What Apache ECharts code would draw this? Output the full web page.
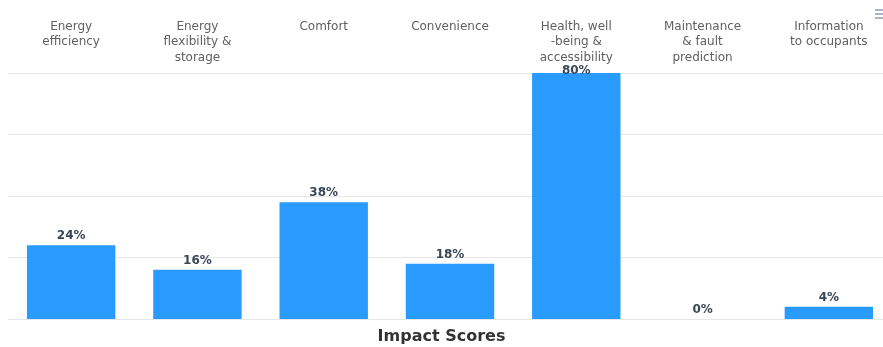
<!DOCTYPE html>
<html>
<head>
<meta charset="utf-8">
<script src="https://cdn.jsdelivr.net/npm/echarts@6/dist/echarts.min.js"></script>
<style>html,body{margin:0;padding:0;background:#fff;}#c{width:883px;height:347px;}</style>
</head>
<body>
<div id="c"></div>
<script>
const categories = [
  "Energy\nefficiency",
  "Energy\nflexibility &\nstorage",
  "Comfort",
  "Convenience",
  "Health, well\n-being &\naccessibility",
  "Maintenance\n& fault\nprediction",
  "Information\nto occupants"
];
const impactScores = [24, 16, 38, 18, 80, 0, 4];
const yTicks = [0, 20, 40, 60, 80];
const axisTitle = "Impact Scores";

const yMax = yTicks[yTicks.length - 1];
const seriesData = impactScores.map(v => v >= yMax ? {value: v, label: {offset: [0, 7]}} : v);

const chart = echarts.init(document.getElementById('c'), null, {renderer: 'canvas'});
chart.setOption({
  animation: false,
  backgroundColor: '#ffffff',
  grid: {left: 8, top: 73, width: 884, bottom: 28, containLabel: false, outerBoundsMode: 'none'},
  xAxis: {
    type: 'category',
    position: 'top',
    data: categories,
    axisLine: {show: true, lineStyle: {color: '#e6e6e6'}},
    axisTick: {show: false},
    axisLabel: {
      interval: 0,
      color: '#606060',
      fontSize: 12,
      fontFamily: 'DejaVu Sans',
      lineHeight: 15.5,
      verticalAlign: 'top',
      margin: 54
    }
  },
  yAxis: {
    type: 'value',
    min: yTicks[0],
    max: yMax,
    interval: yTicks[1] - yTicks[0],
    axisLabel: {show: false},
    axisLine: {show: false},
    axisTick: {show: false},
    splitLine: {lineStyle: {color: '#e6e6e6'}}
  },
  graphic: [
    {type: 'text', left: 'center', top: 329, style: {text: axisTitle, fontSize: 16, fontWeight: 'bold', fill: '#333333', fontFamily: 'DejaVu Sans'}},
    {type: 'line', shape: {x1: 875, y1: 10, x2: 883, y2: 10}, style: {stroke: '#8f9bb0', lineWidth: 1.5}},
    {type: 'line', shape: {x1: 875, y1: 14, x2: 883, y2: 14}, style: {stroke: '#8f9bb0', lineWidth: 1.5}},
    {type: 'line', shape: {x1: 875, y1: 18, x2: 883, y2: 18}, style: {stroke: '#8f9bb0', lineWidth: 1.5}}
  ],
  series: [{
    type: 'bar',
    data: seriesData,
    barWidth: '70%',
    itemStyle: {color: '#299bff'},
    label: {
      show: true,
      position: 'top',
      distance: 3,
      formatter: '{c}%',
      fontSize: 12,
      fontWeight: 'bold',
      color: '#3a4655',
      fontFamily: 'DejaVu Sans'
    }
  }]
});
</script>
</body>
</html>
